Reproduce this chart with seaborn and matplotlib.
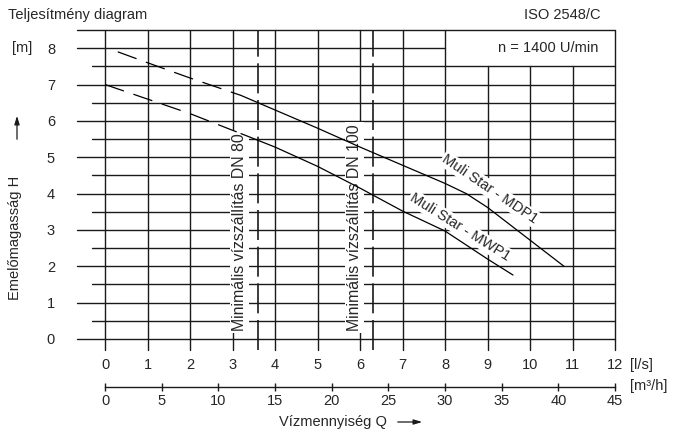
import numpy as np
import pandas as pd
import seaborn as sns
import matplotlib.pyplot as plt

# Q in l/s, H in m
mdp1_dash_q = [0.3, 1, 2, 3.2]
mdp1_dash_h = [7.9, 7.6, 7.18, 6.7]
mdp1_q = [3.2, 4, 5, 6, 7, 8, 8.5, 9, 10, 10.8]
mdp1_h = [6.7, 6.3, 5.8, 5.28, 4.78, 4.28, 4.0, 3.62, 2.72, 2.0]

mwp1_dash_q = [0, 1, 2, 3.2]
mwp1_dash_h = [7.0, 6.6, 6.2, 5.65]
mwp1_q = [3.2, 4, 5, 6, 7, 8, 9, 9.6]
mwp1_h = [5.65, 5.28, 4.75, 4.15, 3.52, 2.97, 2.2, 1.76]

dn_q = [3.6, 6.3]
dn_labels = ["Minimális vízszállítás DN 80", "Minimális vízszállítás DN 100"]

ls_ticks = list(range(0, 13))
m3h_ticks = list(range(0, 50, 5))
h_ticks = list(range(0, 9))

sns.set_style("white")
plt.rcParams['font.family'] = ['Liberation Sans', 'DejaVu Sans']
FS = 10.5
INK = "#1a1a1a"

fig = plt.figure(figsize=(6.8, 4.36), dpi=100)
ax = fig.add_axes([105 / 680, 1 - 339 / 436, 510 / 680, 309 / 436])
ax.set_xlim(0, 12)
ax.set_ylim(0, 8.5)
for s in ax.spines.values():
    s.set_visible(False)

# grid
x_left_major, x_left_minor, y_bottom = -0.66, -0.31, -0.3
for h in h_ticks:
    ax.plot([x_left_major, 8 if h == 8 else 12], [h, h], color=INK, lw=1, clip_on=False, zorder=1)
for h in np.arange(0.5, 8.0, 1.0):
    ax.plot([x_left_minor, 12], [h, h], color=INK, lw=1, clip_on=False, zorder=1)
ax.plot([x_left_major, 12], [8.5, 8.5], color=INK, lw=1, clip_on=False, zorder=1)
for q in ls_ticks:
    top = 7.5 if q in (9, 10, 11) else 8.5
    ax.plot([q, q], [y_bottom, top], color=INK, lw=1, clip_on=False, zorder=1)

# minimum flow lines
for q, lab in zip(dn_q, dn_labels):
    ax.plot([q, q], [y_bottom, 8.5], color=INK, lw=1.2, dashes=(18, 4), clip_on=False, zorder=3)
    ax.text(q - 0.43, 0.22, lab, rotation=90, ha="center", va="bottom", fontsize=11.4,
            bbox=dict(facecolor="white", edgecolor="none", pad=1.5), zorder=2)

# pump curves
for qs, hs, dashed in [(mdp1_dash_q, mdp1_dash_h, True), (mdp1_q, mdp1_h, False),
                       (mwp1_dash_q, mwp1_dash_h, True), (mwp1_q, mwp1_h, False)]:
    line = sns.lineplot(x=qs, y=hs, ax=ax, color="black", lw=0.9, zorder=4)
    if dashed:
        line.lines[-1].set_dashes((16, 8))

ax.text(9.06, 4.12, "Muli Star - MDP1", rotation=-34, ha="center", va="center", fontsize=FS,
        rotation_mode="anchor", bbox=dict(facecolor="white", edgecolor="none", pad=1), zorder=2)
ax.text(8.35, 3.08, "Muli Star - MWP1", rotation=-32, ha="center", va="center", fontsize=FS,
        rotation_mode="anchor", bbox=dict(facecolor="white", edgecolor="none", pad=1), zorder=2)

ax.text(11.6, 8.0, "n = 1400 U/min", ha="right", va="center", fontsize=FS)

# axes, ticks
ax.set_yticks(h_ticks)
ax.set_xticks(ls_ticks)
ax.tick_params(axis="y", length=0, pad=36, labelsize=FS)
ax.tick_params(axis="x", length=0, pad=14, labelsize=FS)
ax.text(12.35, -0.72, "[l/s]", ha="left", va="center", fontsize=FS)

sec = ax.secondary_xaxis(-48 / 309, functions=(lambda q: q * 45 / 12, lambda m: m * 12 / 45))
sec.set_xticks(m3h_ticks)
sec.tick_params(direction="inout", length=6, width=1, color=INK, pad=2, labelsize=FS)
sec.spines["bottom"].set_color(INK)
sec.spines["bottom"].set_linewidth(1)
ax.text(12.35, -1.3, "[m³/h]", ha="left", va="center", fontsize=FS)

fig.text(8 / 680, 1 - 15 / 436, "Teljesítmény diagram", ha="left", va="center", fontsize=FS)
fig.text(600 / 680, 1 - 15 / 436, "ISO 2548/C", ha="right", va="center", fontsize=FS)
fig.text(12 / 680, 1 - 48 / 436, "[m]", ha="left", va="center", fontsize=FS)
fig.text(15 / 680, 1 - 238 / 436, "Emelőmagasság H", rotation=90, ha="center", va="center", fontsize=FS)
fig.text(333 / 680, 1 - 422 / 436, "Vízmennyiség Q", ha="center", va="center", fontsize=FS)
ax.annotate("", xy=(17 / 680, 1 - 113 / 436), xytext=(17 / 680, 1 - 142 / 436),
            xycoords="figure fraction",
            arrowprops=dict(arrowstyle="-|>,head_length=0.5,head_width=0.15", color=INK, lw=0.9))
ax.annotate("", xy=(425 / 680, 1 - 422 / 436), xytext=(395 / 680, 1 - 422 / 436),
            xycoords="figure fraction",
            arrowprops=dict(arrowstyle="-|>,head_length=0.5,head_width=0.15", color=INK, lw=0.9))

fig.savefig("out.png", dpi=100)
